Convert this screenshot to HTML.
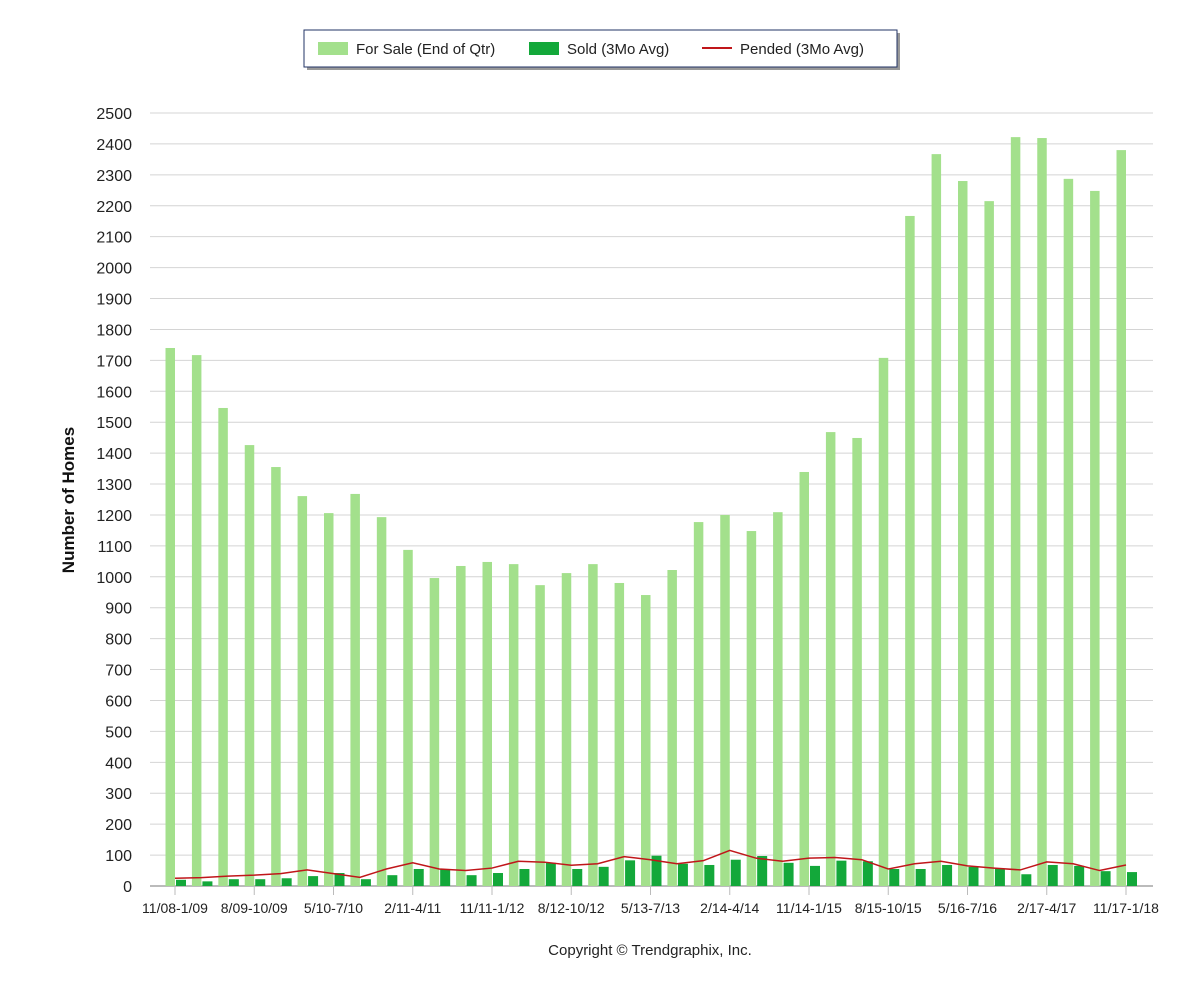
<!DOCTYPE html>
<html><head><meta charset="utf-8"><style>
body{margin:0;background:#fff;font-family:"Liberation Sans",sans-serif}
</style></head><body>
<svg id="chart" width="1200" height="1000" xmlns="http://www.w3.org/2000/svg">
<rect x="0" y="0" width="1200" height="1000" fill="#fff"/>
<g>
<rect x="307" y="33" width="593" height="37" fill="#999"/>
<rect x="304" y="30" width="593" height="37" fill="#fff" stroke="#223366" stroke-width="1"/>
<g><rect x="318" y="42" width="30" height="13" fill="#a3e08c"/><text x="356" y="54" font-size="15" fill="#222">For Sale (End of Qtr)</text></g>
<g><rect x="529" y="42" width="30" height="13" fill="#13a83a"/><text x="567" y="54" font-size="15" fill="#222">Sold (3Mo Avg)</text></g>
<g><line x1="702" y1="48" x2="732" y2="48" stroke="#c0161a" stroke-width="2"/><text x="740" y="54" font-size="15" fill="#222">Pended (3Mo Avg)</text></g>
</g>
<g id="grid"></g><g id="bars"></g><g id="ticks"></g>
<text transform="translate(74,500) rotate(-90)" text-anchor="middle" font-size="17" font-weight="bold" fill="#111">Number of Homes</text>
<text x="650" y="955" text-anchor="middle" font-size="15" fill="#222">Copyright © Trendgraphix, Inc.</text>
</svg>
<script>
const categories=["11/08-1/09","2/09-4/09","5/09-7/09","8/09-10/09","11/09-1/10","2/10-4/10","5/10-7/10","8/10-10/10","11/10-1/11","2/11-4/11","5/11-7/11","8/11-10/11","11/11-1/12","2/12-4/12","5/12-7/12","8/12-10/12","11/12-1/13","2/13-4/13","5/13-7/13","8/13-10/13","11/13-1/14","2/14-4/14","5/14-7/14","8/14-10/14","11/14-1/15","2/15-4/15","5/15-7/15","8/15-10/15","11/15-1/16","2/16-4/16","5/16-7/16","8/16-10/16","11/16-1/17","2/17-4/17","5/17-7/17","8/17-10/17","11/17-1/18"];
const forSale=[1740,1717,1546,1426,1355,1261,1206,1268,1193,1087,996,1035,1048,1041,973,1012,1041,980,941,1022,1177,1200,1148,1209,1339,1468,1449,1708,2167,2367,2280,2215,2422,2419,2287,2248,2380];
const sold=[20,15,22,22,25,32,42,22,35,55,55,35,42,55,75,55,62,83,98,72,68,85,97,75,65,82,80,55,55,68,62,55,38,68,65,48,45];
const pended=[25,27,32,35,40,52,40,28,55,75,55,50,58,80,77,67,72,95,85,72,82,115,90,80,90,92,85,55,72,80,65,58,52,78,72,50,68];
const yTicks=[0,100,200,300,400,500,600,700,800,900,1000,1100,1200,1300,1400,1500,1600,1700,1800,1900,2000,2100,2200,2300,2400,2500];
const NS="http://www.w3.org/2000/svg";
const y=v=>886-v*(773/2500);
const x=i=>175+i*((1126-175)/36);
function mk(tag,attrs,parent){const e=document.createElementNS(NS,tag);for(const k in attrs)e.setAttribute(k,attrs[k]);document.getElementById(parent).appendChild(e);return e;}
yTicks.forEach(t=>{
 const l=mk('line',{x1:150,x2:1153,y1:y(t),y2:y(t),stroke:t===0?'#bbb':'#d4d4d4','stroke-width':t===0?2:1},'grid');
 
 
 const tx=mk('text',{x:132,y:y(t)+6,'text-anchor':'end','font-size':16,fill:'#222'},'grid');
 tx.textContent=t;
 
 
});
categories.forEach((c,i)=>{
 const b=mk('rect',{x:x(i)-9.5,y:y(forSale[i]),width:9.5,height:886-y(forSale[i]),fill:'#a3e08c'},'bars');
 
 
 const s=mk('rect',{x:x(i)+1,y:y(sold[i]),width:10,height:886-y(sold[i]),fill:'#13a83a'},'bars');
 
 
 if(i%3===0){
  const tk=mk('line',{x1:x(i),x2:x(i),y1:887,y2:895,stroke:'#bbb'},'ticks');
  
  
  const lb=mk('text',{x:x(i),y:913,'text-anchor':'middle','font-size':14,fill:'#222'},'ticks');
  lb.textContent=c;
  
  
 }
});
const pl=mk('polyline',{points:pended.map((v,i)=>x(i)+','+y(v)).join(' '),fill:'none',stroke:'#c0161a','stroke-width':1.5},'bars');


</script>
</body></html>
